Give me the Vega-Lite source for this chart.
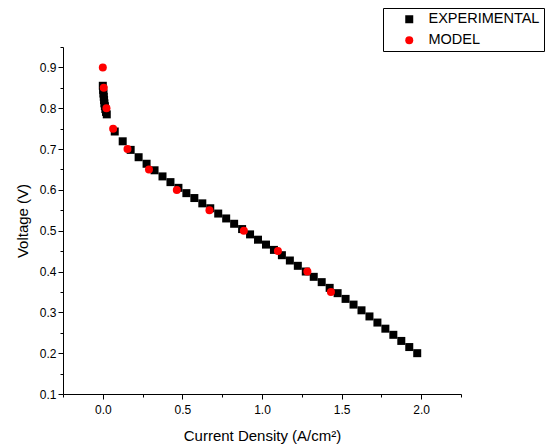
{
  "$schema": "https://vega.github.io/schema/vega-lite/v6.json",
  "width": 398,
  "height": 347,
  "autosize": {"type": "none"},
  "padding": {"left": 63, "top": 47, "right": 88, "bottom": 52},
  "background": "white",
  "config": {
    "view": {"stroke": null},
    "font": "Liberation Sans",
    "axis": {
      "grid": false,
      "domainColor": "black",
      "domainWidth": 1,
      "tickColor": "black",
      "tickWidth": 1,
      "labelColor": "black",
      "labelFont": "Liberation Sans",
      "labelFontSize": 12,
      "titleFont": "Liberation Sans",
      "titleFontSize": 15,
      "titleFontWeight": "normal",
      "titleColor": "black"
    }
  },
  "data": {
    "values": [
      {"j": 0.0, "v": 0.855, "series": "EXPERIMENTAL"},
      {"j": 0.002, "v": 0.845, "series": "EXPERIMENTAL"},
      {"j": 0.004, "v": 0.836, "series": "EXPERIMENTAL"},
      {"j": 0.006, "v": 0.828, "series": "EXPERIMENTAL"},
      {"j": 0.008, "v": 0.82, "series": "EXPERIMENTAL"},
      {"j": 0.01, "v": 0.812, "series": "EXPERIMENTAL"},
      {"j": 0.013, "v": 0.805, "series": "EXPERIMENTAL"},
      {"j": 0.016, "v": 0.798, "series": "EXPERIMENTAL"},
      {"j": 0.02, "v": 0.791, "series": "EXPERIMENTAL"},
      {"j": 0.025, "v": 0.785, "series": "EXPERIMENTAL"},
      {"j": 0.075, "v": 0.743, "series": "EXPERIMENTAL"},
      {"j": 0.125, "v": 0.719, "series": "EXPERIMENTAL"},
      {"j": 0.175, "v": 0.698, "series": "EXPERIMENTAL"},
      {"j": 0.225, "v": 0.68, "series": "EXPERIMENTAL"},
      {"j": 0.275, "v": 0.664, "series": "EXPERIMENTAL"},
      {"j": 0.325, "v": 0.648, "series": "EXPERIMENTAL"},
      {"j": 0.375, "v": 0.633, "series": "EXPERIMENTAL"},
      {"j": 0.425, "v": 0.619, "series": "EXPERIMENTAL"},
      {"j": 0.475, "v": 0.605, "series": "EXPERIMENTAL"},
      {"j": 0.525, "v": 0.592, "series": "EXPERIMENTAL"},
      {"j": 0.575, "v": 0.58, "series": "EXPERIMENTAL"},
      {"j": 0.625, "v": 0.567, "series": "EXPERIMENTAL"},
      {"j": 0.675, "v": 0.555, "series": "EXPERIMENTAL"},
      {"j": 0.725, "v": 0.542, "series": "EXPERIMENTAL"},
      {"j": 0.775, "v": 0.53, "series": "EXPERIMENTAL"},
      {"j": 0.825, "v": 0.517, "series": "EXPERIMENTAL"},
      {"j": 0.875, "v": 0.504, "series": "EXPERIMENTAL"},
      {"j": 0.925, "v": 0.491, "series": "EXPERIMENTAL"},
      {"j": 0.975, "v": 0.478, "series": "EXPERIMENTAL"},
      {"j": 1.025, "v": 0.466, "series": "EXPERIMENTAL"},
      {"j": 1.075, "v": 0.453, "series": "EXPERIMENTAL"},
      {"j": 1.125, "v": 0.44, "series": "EXPERIMENTAL"},
      {"j": 1.175, "v": 0.427, "series": "EXPERIMENTAL"},
      {"j": 1.225, "v": 0.414, "series": "EXPERIMENTAL"},
      {"j": 1.275, "v": 0.4, "series": "EXPERIMENTAL"},
      {"j": 1.325, "v": 0.387, "series": "EXPERIMENTAL"},
      {"j": 1.375, "v": 0.374, "series": "EXPERIMENTAL"},
      {"j": 1.425, "v": 0.36, "series": "EXPERIMENTAL"},
      {"j": 1.475, "v": 0.347, "series": "EXPERIMENTAL"},
      {"j": 1.525, "v": 0.333, "series": "EXPERIMENTAL"},
      {"j": 1.575, "v": 0.319, "series": "EXPERIMENTAL"},
      {"j": 1.625, "v": 0.305, "series": "EXPERIMENTAL"},
      {"j": 1.675, "v": 0.29, "series": "EXPERIMENTAL"},
      {"j": 1.725, "v": 0.275, "series": "EXPERIMENTAL"},
      {"j": 1.775, "v": 0.26, "series": "EXPERIMENTAL"},
      {"j": 1.825, "v": 0.245, "series": "EXPERIMENTAL"},
      {"j": 1.875, "v": 0.23, "series": "EXPERIMENTAL"},
      {"j": 1.925, "v": 0.215, "series": "EXPERIMENTAL"},
      {"j": 1.975, "v": 0.2, "series": "EXPERIMENTAL"},
      {"j": 0.0, "v": 0.9, "series": "MODEL"},
      {"j": 0.006, "v": 0.85, "series": "MODEL"},
      {"j": 0.023, "v": 0.8, "series": "MODEL"},
      {"j": 0.065, "v": 0.75, "series": "MODEL"},
      {"j": 0.155, "v": 0.7, "series": "MODEL"},
      {"j": 0.29, "v": 0.65, "series": "MODEL"},
      {"j": 0.465, "v": 0.6, "series": "MODEL"},
      {"j": 0.67, "v": 0.55, "series": "MODEL"},
      {"j": 0.886, "v": 0.5, "series": "MODEL"},
      {"j": 1.1, "v": 0.45, "series": "MODEL"},
      {"j": 1.285, "v": 0.4, "series": "MODEL"},
      {"j": 1.433, "v": 0.35, "series": "MODEL"}
    ]
  },
  "mark": {"type": "point", "filled": true, "opacity": 1, "size": 64},
  "encoding": {
    "x": {
      "field": "j",
      "type": "quantitative",
      "scale": {"domain": [-0.25, 2.25], "nice": false, "zero": false},
      "axis": {
        "title": "Current Density (A/cm²)",
        "values": [-0.25, 0, 0.25, 0.5, 0.75, 1, 1.25, 1.5, 1.75, 2, 2.25],
        "labelExpr": "abs(datum.value*2 - round(datum.value*2)) < 0.01 ? format(datum.value, '.1f') : ''",
        "tickSize": {"condition": {"test": "abs(datum.value*2 - round(datum.value*2)) < 0.01", "value": 5}, "value": 3},
        "labelPadding": 5,
        "titlePadding": 13
      }
    },
    "y": {
      "field": "v",
      "type": "quantitative",
      "scale": {"domain": [0.1, 0.95], "nice": false, "zero": false},
      "axis": {
        "title": "Voltage (V)",
        "values": [0.1, 0.15, 0.2, 0.25, 0.3, 0.35, 0.4, 0.45, 0.5, 0.55, 0.6, 0.65, 0.7, 0.75, 0.8, 0.85, 0.9, 0.95],
        "labelExpr": "abs(datum.value*10 - round(datum.value*10)) < 0.01 ? format(datum.value, '.1f') : ''",
        "tickSize": {"condition": {"test": "abs(datum.value*10 - round(datum.value*10)) < 0.01", "value": 5}, "value": 3},
        "labelPadding": 2,
        "titlePadding": 9
      }
    },
    "color": {
      "field": "series",
      "type": "nominal",
      "scale": {"domain": ["EXPERIMENTAL", "MODEL"], "range": ["black", "red"]},
      "legend": {
        "title": null,
        "orient": "none",
        "legendX": 320,
        "legendY": -39,
        "strokeColor": "black",
        "padding": 4,
        "rowPadding": 6,
        "symbolOffset": 15,
        "labelOffset": 12,
        "labelFont": "Liberation Sans",
        "labelFontSize": 14.5,
        "labelColor": "black",
        "symbolSize": 64,
        "symbolStrokeWidth": 0
      }
    },
    "shape": {
      "field": "series",
      "type": "nominal",
      "scale": {"domain": ["EXPERIMENTAL", "MODEL"], "range": ["square", "circle"]},
      "legend": null
    }
  }
}
